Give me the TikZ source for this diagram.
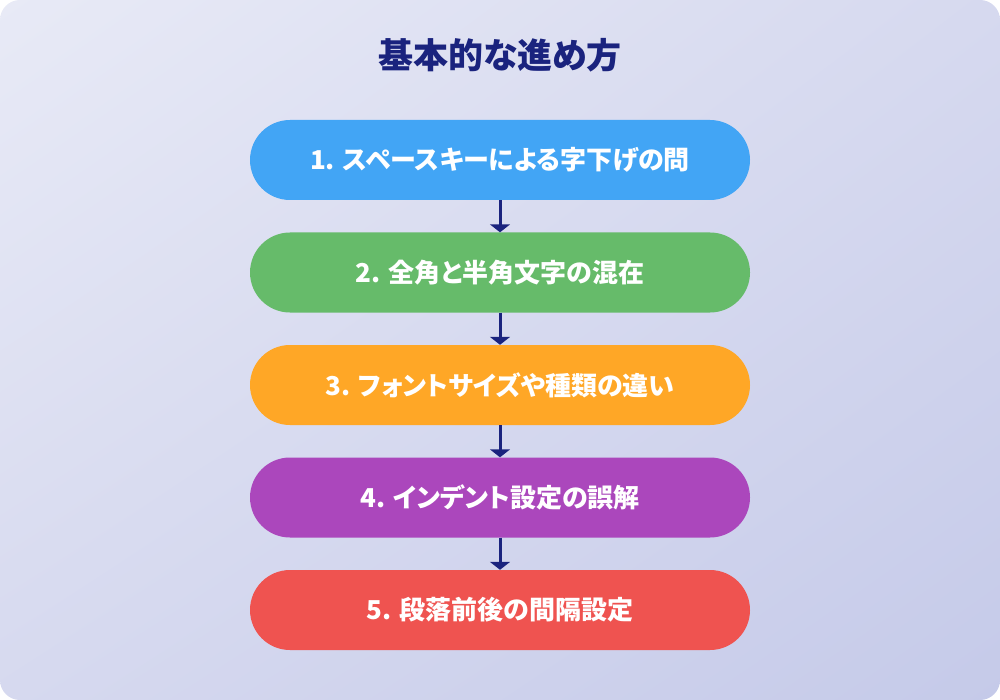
\documentclass[tikz,border=0pt]{standalone}
\usepackage{fontspec}
\usetikzlibrary{arrows.meta,shadings}
\newfontfamily\cjk{Noto Sans CJK JP}[RawFeature=+palt]
\definecolor{bgA}{HTML}{E8EAF6}
\definecolor{bgB}{HTML}{C5CAE9}
\definecolor{bgM}{HTML}{D6D9EF}
\definecolor{navy}{HTML}{1A237E}
\definecolor{c1}{HTML}{42A5F5}
\definecolor{c2}{HTML}{66BB6A}
\definecolor{c3}{HTML}{FFA726}
\definecolor{c4}{HTML}{AB47BC}
\definecolor{c5}{HTML}{EF5350}
\tikzset{
  stepbox/.style={rounded corners=40pt, minimum width=500pt, minimum height=80pt, inner sep=0pt,
    text=white, font=\cjk\bfseries\fontsize{26}{30}\selectfont},
  flow/.style={draw=navy, line width=3pt, -{Triangle[width=20pt,length=8pt]}}
}
\begin{document}
\begin{tikzpicture}[x=1pt,y=-1pt]
\useasboundingbox (0,0) rectangle (1000,700);
\shade[rounded corners=20pt, upper left=bgA, lower right=bgB, upper right=bgM, lower left=bgM] (0,0) rectangle (1000,700);
\node[text=navy, font=\cjk\bfseries\fontsize{35}{40}\selectfont] (title) at (500,55) {基本的な進め方};
\node[stepbox, fill=c1] (s1) at (500,160) {1. スペースキーによる字下げの問};
\node[stepbox, fill=c2] (s2) at (500,272.5) {2. 全角と半角文字の混在};
\node[stepbox, fill=c3] (s3) at (500,385) {3. フォントサイズや種類の違い};
\node[stepbox, fill=c4] (s4) at (500,497.5) {4. インデント設定の誤解};
\node[stepbox, fill=c5] (s5) at (500,610) {5. 段落前後の間隔設定};
\draw[flow] (s1) -- (s2);
\draw[flow] (s2) -- (s3);
\draw[flow] (s3) -- (s4);
\draw[flow] (s4) -- (s5);
\end{tikzpicture}
\end{document}
